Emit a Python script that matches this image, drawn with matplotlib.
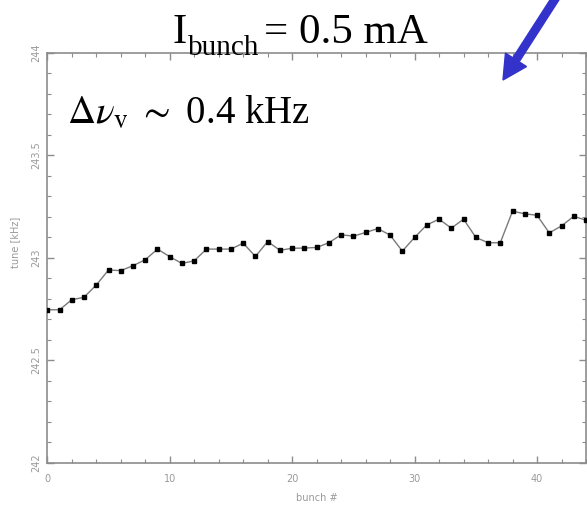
import numpy as np
import matplotlib
matplotlib.use("Agg")
import matplotlib.pyplot as plt
from matplotlib.patches import FancyArrow
from matplotlib.ticker import MultipleLocator

plt.rcParams['mathtext.fontset'] = 'stix'

# tune of each bunch
bunch = np.arange(45)
tune = [242.746, 242.746, 242.795, 242.807, 242.867, 242.940, 242.937, 242.961,
        242.990, 243.042, 243.005, 242.972, 242.985, 243.042, 243.042, 243.042,
        243.071, 243.006, 243.079, 243.036, 243.046, 243.047, 243.050, 243.073,
        243.112, 243.105, 243.123, 243.142, 243.110, 243.032, 243.099, 243.160,
        243.188, 243.144, 243.188, 243.099, 243.073, 243.073, 243.227, 243.214,
        243.207, 243.121, 243.155, 243.202, 243.183]

yticks = [242, 242.5, 243, 243.5, 244]
ytick_labels = ["242", "242.5", "243", "243.5", "244"]
xticks = [0, 10, 20, 30, 40]

gray = "#8c8c8c"

fig = plt.figure(figsize=(5.87, 5.08), dpi=100)
ax = fig.add_axes([47.3 / 587, 45.3 / 508, 538.7 / 587, 410 / 508])

ax.plot(bunch, tune, color="#7a7a7a", lw=1.0, marker="s", ms=2.3,
        mfc="black", mec="black", zorder=3)

ax.set_xlim(0, 44)
ax.set_ylim(242, 244)
ax.set_xticks(xticks)
ax.set_yticks(yticks)
ax.set_yticklabels(ytick_labels)
ax.xaxis.set_minor_locator(MultipleLocator(2))
ax.yaxis.set_minor_locator(MultipleLocator(0.1))

ax.tick_params(which="both", direction="in", top=True, right=True,
               color=gray, labelcolor="#9a9a9a", labelsize=7)
ax.tick_params(which="major", length=5, width=1.0)
ax.tick_params(which="minor", length=3, width=0.8)
ax.tick_params(axis="x", pad=8)
ax.tick_params(axis="y", pad=8)
for lbl in ax.get_yticklabels():
    lbl.set_rotation(90)
    lbl.set_va("center")
    lbl.set_ha("center")

for s in ax.spines.values():
    s.set_color(gray)
    s.set_linewidth(1.2)

ax.set_xlabel("bunch #", fontsize=7, color="#9a9a9a")
ax.xaxis.set_label_coords(0.5, -0.073)
ax.set_ylabel("tune [kHz]", fontsize=7, color="#9a9a9a")
ax.yaxis.set_label_coords(-0.051, 0.537)

# title: main text and lowered subscript
fig.text(172 / 587, 1 - 43 / 508, "I", fontsize=31,
         family="Liberation Serif", ha="left", va="baseline")
fig.text(188 / 587, 1 - 55 / 508, "bunch", fontsize=21,
         family="Liberation Serif", ha="left", va="baseline")
fig.text(428 / 587, 1 - 43 / 508, "= 0.5 mA", fontsize=31,
         family="Liberation Serif", ha="right", va="baseline")
fig.text(67 / 587, 1 - 123 / 508, r"$\Delta\nu_{\mathrm{v}}$ $\sim$ 0.4 kHz",
         fontsize=28, family="Liberation Serif", ha="left", va="baseline")

# blue arrow at top right, in inches
arrow = FancyArrow(5.57, 5.12, -0.54, -0.84, width=0.075, head_width=0.25,
                   head_length=0.24, length_includes_head=True,
                   color="#3333cc", transform=fig.dpi_scale_trans,
                   clip_on=False)
fig.patches.append(arrow)

fig.savefig("out.png", dpi=100)
